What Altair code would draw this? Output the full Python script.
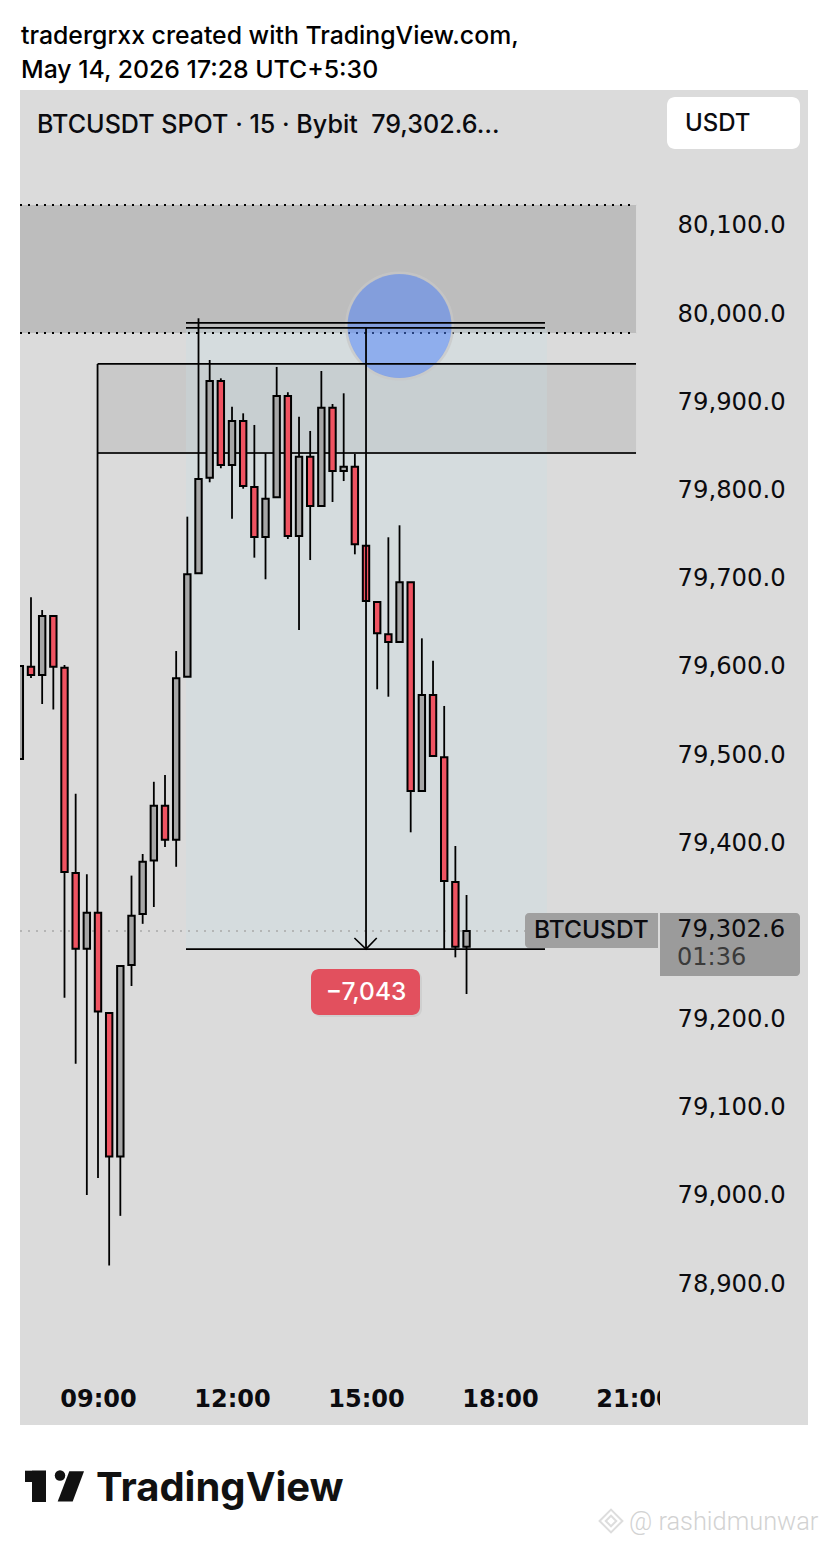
import altair as alt
import pandas as pd

# ---- candles (hour of day, prices) ----
hours = [7.25,7.5,7.75,8.0,8.25,8.5,8.75,9.0,9.25,9.5,9.75,10.0,10.25,10.5,10.75,11.0,11.25,11.5,11.75,12.0,
         12.25,12.5,12.75,13.0,13.25,13.5,13.75,14.0,14.25,14.5,14.75,15.0,15.25,15.5,15.75,16.0,16.25,16.5,16.75,17.0,17.25]
body_top = [79603.2,79602.4,79659.9,79659.9,79601.3,79368.5,79323.4,79323.4,79209.7,79263.0,79320.0,79381.2,79444.6,79444.6,79589.3,79707.2,
            79815.3,79926.5,79926.5,79881.1,79881.1,79806.2,79793.0,79909.5,79909.5,79840.6,79840.6,79896.2,79896.2,79829.3,79829.3,79739.7,
            79675.8,79639.2,79698.2,79698.2,79570.3,79570.3,79499.7,79358.2,79302.6]
body_bot = [79497.7,79593.0,79593.0,79602.4,79369.6,79282.6,79282.6,79211.5,79046.9,79046.9,79264.1,79321.9,79382.5,79406.3,79406.3,79591.1,
            79708.4,79816.8,79831.2,79831.2,79807.4,79749.5,79749.5,79794.6,79750.7,79750.7,79784.7,79784.7,79824.4,79824.4,79741.3,79676.9,
            79640.3,79630.4,79630.4,79461.4,79461.4,79501.1,79359.4,79284.9,79284.9]
highs = [79603.2,79681.1,79666.7,79659.9,79604.4,79458.4,79366.9,79323.4,79209.7,79263.0,79365.5,79390.0,79471.9,79479.6,79620.2,79772.6,
         79997.6,79950.3,79929.5,79897.3,79889.8,79876.6,79844.5,79942.4,79913.7,79886.0,79869.8,79937.8,79900.4,79912.5,79843.7,79739.7,
         79675.8,79749.2,79762.8,79698.2,79634.6,79609.2,79557.9,79399.1,79343.5]
lows = [79497.7,79589.6,79560.1,79553.9,79227.1,79152.0,79003.2,79022.5,78923.3,78979.6,79240.3,79310.8,79329.9,79397.9,79375.5,79591.1,
        79708.4,79811.6,79827.5,79770.3,79804.3,79726.1,79701.6,79794.6,79747.3,79644.1,79723.4,79784.7,79789.2,79813.0,79729.9,79676.9,
        79576.8,79568.4,79630.4,79414.6,79461.4,79501.1,79282.2,79272.8,79231.2]
up = [1,0,1,0,0,0,1,0,0,1,1,1,1,0,1,1,1,1,0,1,0,0,1,1,0,1,0,1,0,1,0,0,0,0,1,0,1,0,0,0,1]

time_ticks = [9, 12, 15, 18, 21]
price_ticks = [78900,79000,79100,79200,79300,79400,79500,79600,79700,79800,79900,80000,80100]

x_domain = [7.2539, 24.894]
y_domain = [78742.4, 80256.5]

# drawings (hours, prices)
dark_zone = dict(x=7.2539, x2=21.044, y=79980.9, y2=80126.1)
mid_zone = dict(x=8.99, x2=21.044, y=79844.8, y2=79945.8)
measure_box = dict(x=10.97, x2=19.05, y=79282.2, y2=79987.7)
measure_left, measure_right = 10.97, 19.006
measure_levels = [79992.3, 79986.6, 79282.2]
last_price = 79302.6
arrow_x, arrow_top, arrow_bottom = 15.0, 79986.6, 79282.2
chevron_x = [14.74, 15.0, 15.24]
chevron_y = [79294.7, 79282.2, 79294.7]

BG = "#dbdbdb"
FONT = "Inter"
NUM_FONT = "DejaVu Sans"
INK = "#0b0b0f"
xs = alt.Scale(domain=x_domain, nice=False, zero=False, padding=0)
ys = alt.Scale(domain=y_domain, nice=False, zero=False, padding=0)
X = alt.X("x:Q", scale=xs, axis=None, title=None)
Y = alt.Y("y:Q", scale=ys, axis=None, title=None)
one = pd.DataFrame({"a": [0]})


def box(d, **kw):
    return alt.Chart(pd.DataFrame([d])).mark_rect(**kw).encode(X, x2="x2:Q", y=Y, y2="y2:Q")


def hline(y, x0, x1, **kw):
    return alt.Chart(pd.DataFrame({"x": [x0], "x2": [x1], "y": [y]})).mark_rule(**kw).encode(X, x2="x2:Q", y=Y)


def vline(x, y0, y1, **kw):
    return alt.Chart(pd.DataFrame({"x": [x], "y": [y0], "y2": [y1]})).mark_rule(**kw).encode(X, y=Y, y2="y2:Q")


def panel(x0, y0, x1, y1, color, **kw):
    return alt.Chart(one).mark_rect(color=color, **kw).encode(
        x=alt.value(x0 - 20), x2=alt.value(x1 - 20), y=alt.value(y0 - 90), y2=alt.value(y1 - 90))


def label(s, x, y, size, weight=500, color=INK, align="left", font=FONT):
    return alt.Chart(one).mark_text(text=s, fontSize=size, fontWeight=weight, color=color, align=align,
                                    baseline="middle", font=font).encode(x=alt.value(x - 20), y=alt.value(y - 90))


def glyph(x, y, size, shape, **kw):
    return alt.Chart(one).mark_point(shape=shape, size=size, **kw).encode(x=alt.value(x - 20), y=alt.value(y - 90))


axes = alt.Chart(pd.DataFrame({"x": time_ticks, "y": [price_ticks[0]] * 5})).mark_point(opacity=0).encode(
    x=alt.X("x:Q", scale=xs, title=None, axis=alt.Axis(
        values=time_ticks, labelExpr="format(datum.value,'02d')+':00'", orient="bottom", offset=-26,
        domain=False, ticks=False, grid=False, labelPadding=0, labelBaseline="middle", labelFont=NUM_FONT,
        labelFontSize=24, labelFontWeight=700, labelColor=INK, labelAngle=0, labelFlush=False, labelOverlap=False)),
    y=alt.Y("y:Q", scale=ys, title=None, axis=alt.Axis(
        values=price_ticks, format=",.1f", orient="right", offset=-131, domain=False, ticks=False, grid=False,
        labelPadding=0, labelAlign="left", labelOffset=-2, labelFont=NUM_FONT, labelFontSize=24.3, labelFontWeight=400,
        labelColor=INK, labelOverlap=False)),
)

candles = pd.DataFrame({"x": hours, "top": body_top, "bot": body_bot, "hi": highs, "lo": lows,
                        "dir": ["up" if u else "down" for u in up]})
wicks = alt.Chart(candles).mark_rule(color="black", strokeWidth=1.8, clip=True).encode(
    X, y=alt.Y("lo:Q", scale=ys, axis=None, title=None), y2="hi:Q")
bodies = alt.Chart(candles).mark_bar(size=6.4, stroke="black", strokeWidth=2, clip=True).encode(
    X, y=alt.Y("top:Q", scale=ys, axis=None, title=None), y2="bot:Q",
    fill=alt.Fill("dir:N", scale=alt.Scale(domain=["up", "down"], range=["#a6a6a6", "#ef5361"]), legend=None))

circle = alt.Chart(pd.DataFrame({"x": [15.75], "y": [79988.9]})).mark_point(
    filled=True, size=10816, color="#497ffb", opacity=0.5).encode(X, y=Y)
halo = alt.Chart(pd.DataFrame({"x": [15.75], "y": [79988.9]})).mark_point(
    filled=False, size=11236, color="#c8c8c8", strokeWidth=3).encode(X, y=Y)
chevron = alt.Chart(pd.DataFrame({"x": chevron_x, "y": chevron_y, "o": [0, 1, 2]})).mark_line(
    color="black", strokeWidth=1.6).encode(X, y=Y, order="o:Q")

layers = [
    axes,
    panel(660, 1370, 808, 1425, BG),
    box(dark_zone, color="#bdbdbd"),
    box(mid_zone, color="#c9c9c9"),
    box(measure_box, color="#c8dfe6", opacity=0.3),
    hline(dark_zone["y2"], dark_zone["x"], dark_zone["x2"], color="black", strokeWidth=2, strokeDash=[2, 6]),
    hline(dark_zone["y"], dark_zone["x"], dark_zone["x2"], color="black", strokeWidth=2, strokeDash=[2, 6]),
    hline(last_price, x_domain[0], 18.56, color="#a9a9a9", strokeWidth=1.5, strokeDash=[2, 6]),
    halo, circle,
    hline(mid_zone["y2"], mid_zone["x"], mid_zone["x2"], color="black", strokeWidth=1.8),
    hline(mid_zone["y"], mid_zone["x"], mid_zone["x2"], color="#222222", strokeWidth=1.8),
    vline(mid_zone["x"], mid_zone["y2"], 79323.4, color="black", strokeWidth=1.8),
    wicks, bodies,
    hline(measure_levels[0], measure_left, measure_right, color="black", strokeWidth=1.8),
    hline(measure_levels[1], measure_left, measure_right, color="black", strokeWidth=1.8),
    hline(measure_levels[2], measure_left, measure_right, color="black", strokeWidth=1.8),
    vline(arrow_x, arrow_top, arrow_bottom, color="black", strokeWidth=1.8),
    chevron,
    panel(525, 913, 658, 948, "#a0a0a0", cornerRadiusTopLeft=4, cornerRadiusBottomLeft=4),
    panel(660, 913, 800, 976, "#9b9b9b", cornerRadiusTopRight=4, cornerRadiusBottomRight=4),
    label("BTCUSDT", 534, 931, 24.5),
    label("79,302.6", 677, 929.5, 24.3, weight=400, font=NUM_FONT),
    label("01:36", 677, 958, 24, weight=400, color="#3a3a3a", font=NUM_FONT),
    panel(313, 971, 422, 1017, "#cfcfcf", cornerRadius=8),
    panel(311, 969, 420, 1015, "#e2505e", cornerRadius=8),
    label("\u22127,043", 366, 993, 24.5, color="white", align="center"),
    panel(667, 97, 800, 149, "white", cornerRadius=8),
    label("USDT", 685, 124, 24),
    label("BTCUSDT SPOT \u00b7 15 \u00b7 Bybit\u00a0\u00a079,302.6\u2026", 37, 125, 25.1),
    label("tradergrxx created with TradingView.com,", 21, 37, 24.8, color="black"),
    label("May 14, 2026 17:28 UTC+5:30", 21, 71, 24.8, color="black"),
    label("TradingView", 96, 1489, 40, weight=700, color="#111111"),
    panel(25, 1470.7, 46, 1482, "#111111"),
    panel(32, 1470.7, 46, 1502, "#111111"),
    glyph(60, 1475.5, 110, "circle", filled=True, color="#111111", opacity=1),
    glyph(71, 1486, 900, "M-0.113 -0.987 L0.867 -0.987 L0.113 1.03 L-0.887 1.03 Z", filled=True, color="#111111", opacity=1),
    glyph(611, 1521, 520, "diamond", filled=False, color="#dddddd", strokeWidth=2, opacity=1),
    glyph(611, 1521, 110, "diamond", filled=False, color="#dddddd", strokeWidth=2, opacity=1),
    label("@ rashidmunwar", 629, 1522, 25.4, weight=300, color="#d2d2d2", font="Roboto"),
]

chart = alt.layer(*layers).resolve_axis(x="independent", y="independent").properties(
    width=788, height=1335,
    autosize=alt.AutoSizeParams(type="none"),
    padding={"left": 12, "top": 82, "right": 12, "bottom": 110},
).configure_view(fill=BG, strokeWidth=0)

chart.save("out.html", embed_options={"renderer": "svg", "actions": False})
